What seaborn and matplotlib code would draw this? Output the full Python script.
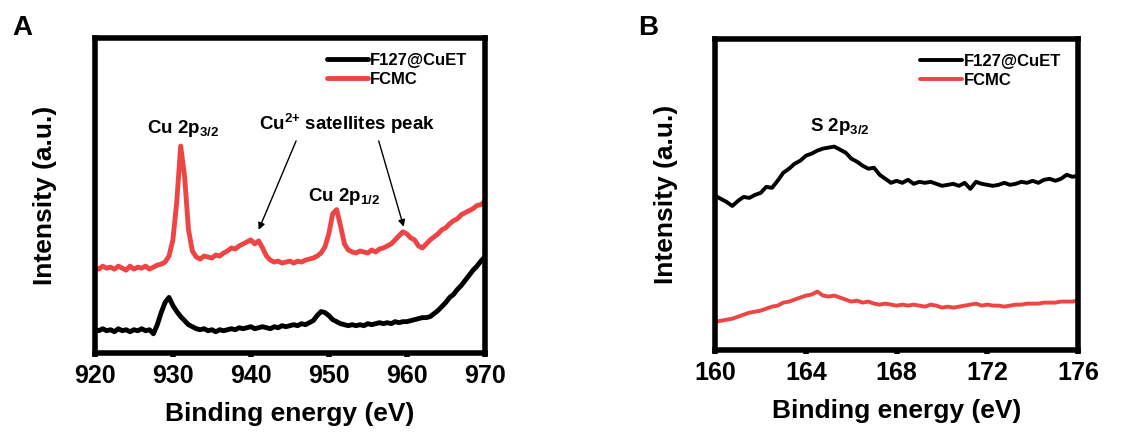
import matplotlib
matplotlib.use('Agg')
import matplotlib.pyplot as plt
import seaborn as sns

# ---- data (intensity in arbitrary units) ----
energy_cu = [920, 920.5, 921, 921.5, 922, 922.5, 923, 923.5, 924, 924.5,
             925, 925.5, 926, 926.5, 927, 927.5, 928, 928.5, 929, 929.5,
             930, 930.5, 931, 931.5, 932, 932.5, 933, 933.5, 934, 934.5,
             935, 935.5, 936, 936.5, 937, 937.5, 938, 938.5, 939, 939.5,
             940, 940.5, 941, 941.5, 942, 942.5, 943, 943.5, 944, 944.5,
             945, 945.5, 946, 946.5, 947, 947.5, 948, 948.5, 949, 949.5,
             950, 950.5, 951, 951.5, 952, 952.5, 953, 953.5, 954, 954.5,
             955, 955.5, 956, 956.5, 957, 957.5, 958, 958.5, 959, 959.5,
             960, 960.5, 961, 961.5, 962, 962.5, 963, 963.5, 964, 964.5,
             965, 965.5, 966, 966.5, 967, 967.5, 968, 968.5, 969, 969.5, 970]

cu_f127 = [23, 22, 24, 22, 23, 21, 24, 22, 23, 21,
           23, 22, 24, 22, 23, 19, 28, 40, 50, 55,
           47, 41, 36, 32, 28, 26, 24, 23, 24, 22,
           23, 21, 23, 22, 23, 24, 23, 25, 24, 25,
           26, 24, 25, 26, 25, 24, 26, 25, 27, 26,
           27, 28, 27, 29, 28, 30, 32, 37, 41, 40,
           37, 33, 31, 29, 28, 27, 28, 27, 28, 27,
           29, 28, 29, 30, 29, 30, 29, 31, 30, 31,
           31, 32, 33, 34, 35, 35, 36, 39, 42, 46,
           50, 55, 58, 63, 67, 72, 77, 82, 86, 91, 95]

cu_fcmc = [85, 83, 86, 84, 85, 83, 86, 84, 82, 86,
           83, 85, 84, 86, 83, 85, 87, 88, 90, 96,
           112, 150, 205, 175, 122, 101, 95, 93, 96, 95,
           94, 97, 96, 99, 101, 104, 103, 106, 108, 110,
           112, 108, 111, 104, 96, 92, 90, 91, 89, 90,
           91, 89, 91, 90, 92, 93, 94, 96, 99, 105,
           118, 138, 142, 126, 108, 102, 100, 99, 101, 100,
           99, 102, 100, 103, 104, 106, 108, 112, 116, 120,
           118, 114, 112, 106, 104, 108, 112, 115, 118, 122,
           124, 128, 131, 133, 137, 139, 141, 143, 146, 147, 150]

energy_s = [160, 160.25, 160.5, 160.75, 161, 161.25, 161.5, 161.75,
            162, 162.25, 162.5, 162.75, 163, 163.25, 163.5, 163.75,
            164, 164.25, 164.5, 164.75, 165, 165.25, 165.5, 165.75,
            166, 166.25, 166.5, 166.75, 167, 167.25, 167.5, 167.75,
            168, 168.25, 168.5, 168.75, 169, 169.25, 169.5, 169.75,
            170, 170.25, 170.5, 170.75, 171, 171.25, 171.5, 171.75,
            172, 172.25, 172.5, 172.75, 173, 173.25, 173.5, 173.75,
            174, 174.25, 174.5, 174.75, 175, 175.25, 175.5, 175.75, 176]

s_f127 = [153, 150, 147, 143, 148, 152, 151, 154,
          156, 162, 161, 168, 176, 180, 185, 188,
          193, 195, 198, 200, 201, 202, 199, 196,
          190, 187, 183, 180, 181, 174, 170, 166,
          168, 166, 169, 165, 167, 166, 167, 165,
          163, 164, 165, 163, 166, 160, 167, 165,
          164, 163, 164, 166, 164, 165, 167, 166,
          168, 166, 169, 170, 168, 170, 174, 172, 173]

s_fcmc = [28, 29, 30, 31, 33, 35, 37, 38,
          39, 41, 43, 44, 47, 48, 50, 52,
          54, 55, 58, 54, 53, 54, 52, 50,
          48, 49, 47, 48, 46, 45, 46, 45,
          44, 45, 44, 45, 44, 43, 45, 44,
          42, 43, 42, 43, 44, 45, 46, 44,
          45, 44, 44, 43, 44, 45, 45, 46,
          46, 46, 47, 47, 47, 48, 48, 48, 49]

labels = ['F127@CuET', 'FCMC']
colors = ['black', '#EE4444']

sns.set_style("ticks")
plt.rcParams['font.family'] = ['Liberation Sans', 'DejaVu Sans']
plt.rcParams['font.weight'] = 'bold'
plt.rcParams['mathtext.default'] = 'regular'
plt.rcParams['text.color'] = 'black'
plt.rcParams['axes.labelcolor'] = 'black'
plt.rcParams['xtick.color'] = 'black'

fig = plt.figure(figsize=(11.3, 4.32), dpi=100)
axA = fig.add_axes([0.084, 0.183, 0.345, 0.729])
axB = fig.add_axes([0.633, 0.190, 0.321, 0.720])


def style_axis(ax, ticks, xlim, ylim):
    ax.set_xlim(*xlim)
    ax.set_ylim(*ylim)
    ax.set_xticks(ticks)
    ax.set_yticks([])
    for sp in ax.spines.values():
        sp.set_visible(True)
        sp.set_linewidth(4)
        sp.set_color('black')
    ax.tick_params(axis='x', direction='out', length=3, width=4,
                   labelsize=18, pad=5)
    for t in ax.get_xticklabels():
        t.set_fontweight('bold')
    ax.set_xlabel('Binding energy (eV)', fontsize=19, fontweight='bold',
                  labelpad=10)
    ax.set_ylabel('Intensity (a.u.)', fontsize=19, fontweight='bold',
                  labelpad=27)
    leg = ax.legend(loc='upper right', frameon=False, fontsize=12,
                    handlelength=2.5, handletextpad=0.1, borderaxespad=0.3,
                    labelspacing=0.25, bbox_to_anchor=(0.985, 0.99))
    for t in leg.get_texts():
        t.set_fontweight('bold')


# ---- panel A : Cu 2p ----
sns.lineplot(x=energy_cu, y=cu_f127, ax=axA, color=colors[0], lw=3.5,
             label=labels[0])
sns.lineplot(x=energy_cu, y=cu_fcmc, ax=axA, color=colors[1], lw=3.5,
             label=labels[1])
style_axis(axA, [920, 930, 940, 950, 960, 970], (920, 970), (0, 312))

axA.text(931.3, 222, 'Cu 2p$_{3/2}$', fontsize=13.5, fontweight='bold',
         ha='center', va='center')
axA.text(952.3, 227, 'Cu$^{2{+}}$ satellites peak', fontsize=13.5,
         fontweight='bold', ha='center', va='center')
axA.text(952.0, 155, 'Cu 2p$_{1/2}$', fontsize=13.5, fontweight='bold',
         ha='center', va='center')
for start, end in [((945.8, 210), (941.0, 122)), ((956.4, 210), (959.6, 125))]:
    axA.annotate('', xy=end, xytext=start,
                 arrowprops=dict(arrowstyle='-|>', color='black', lw=1,
                                 mutation_scale=10, shrinkA=0, shrinkB=0))

# ---- panel B : S 2p ----
sns.lineplot(x=energy_s, y=s_f127, ax=axB, color=colors[0], lw=2.8,
             label=labels[0])
sns.lineplot(x=energy_s, y=s_fcmc, ax=axB, color=colors[1], lw=2.8,
             label=labels[1])
style_axis(axB, [160, 164, 168, 172, 176], (160, 176), (0, 309))
axB.text(165.5, 222, 'S 2p$_{3/2}$', fontsize=13.5, fontweight='bold',
         ha='center', va='center')

fig.text(0.020, 0.935, 'A', fontsize=20, fontweight='bold', ha='center',
         va='center')
fig.text(0.574, 0.935, 'B', fontsize=20, fontweight='bold', ha='center',
         va='center')

fig.savefig('out.png', dpi=100, facecolor='white')
